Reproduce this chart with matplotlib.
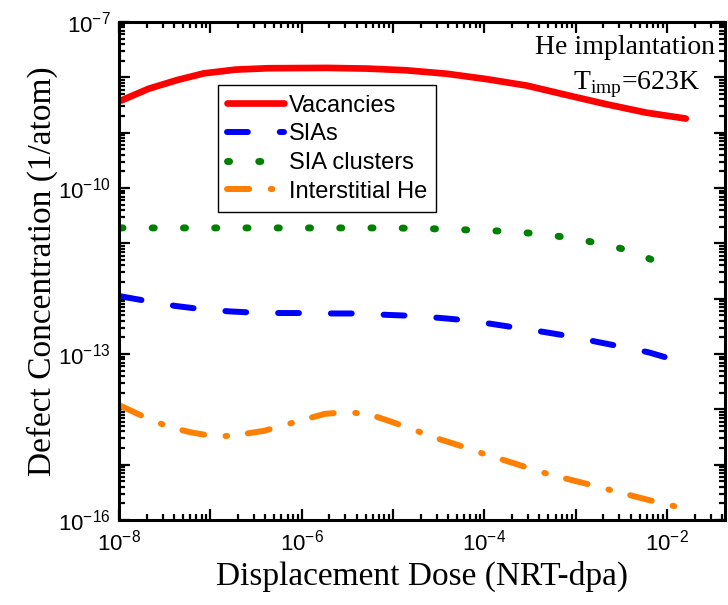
import matplotlib
matplotlib.use('Agg')
import matplotlib.pyplot as plt
from matplotlib.ticker import LogLocator, FuncFormatter, NullFormatter
import numpy as np

# values (dose in NRT-dpa, concentration in 1/atom)
vac_dose = [1.05e-8, 2.1e-8, 4.3e-8, 8.5e-8, 1.9e-7, 4.3e-7, 1.9e-6, 5.2e-6,
            1.4e-5, 3.9e-5, 1.05e-4, 2.9e-4, 7.9e-4, 2.1e-3, 5.9e-3, 1.6e-2]
vac_conc = [3.8e-9, 6.2e-9, 8.9e-9, 1.18e-8, 1.38e-8, 1.46e-8, 1.48e-8, 1.44e-8,
            1.34e-8, 1.16e-8, 9.3e-9, 7.1e-9, 4.8e-9, 3.3e-9, 2.3e-9, 1.8e-9]

sia_dose = [1.05e-8, 2.0e-8, 4.1e-8, 7.8e-8, 1.6e-7, 2.9e-7, 5.8e-7, 1.2e-6,
            2.1e-6, 4.3e-6, 8.5e-6, 1.6e-5, 3.2e-5, 6.0e-5, 1.2e-4, 2.2e-4,
            4.5e-4, 8.5e-4, 1.7e-3, 3.2e-3, 6.3e-3, 1.12e-2]
sia_conc = [1.1e-12, 9.1e-13, 7.4e-13, 6.5e-13, 5.9e-13, 5.6e-13, 5.5e-13, 5.5e-13,
            5.4e-13, 5.4e-13, 5.1e-13, 4.9e-13, 4.5e-13, 4.1e-13, 3.5e-13, 3.0e-13,
            2.5e-13, 2.1e-13, 1.66e-13, 1.35e-13, 1.07e-13, 8.1e-14]

cl_dose = [1.05e-8, 1e-7, 1e-6, 1e-5, 3.2e-5, 7.1e-5, 1.6e-4, 3.5e-4,
           7.8e-4, 1.7e-3, 3.9e-3, 7.8e-3]
cl_conc = [1.9e-11, 1.9e-11, 1.9e-11, 1.9e-11, 1.82e-11, 1.74e-11, 1.66e-11, 1.51e-11,
           1.29e-11, 1.02e-11, 7.4e-12, 4.6e-12]

he_dose = [1.05e-8, 2.2e-8, 3.7e-8, 6.3e-8, 1.17e-7, 1.9e-7, 3.9e-7, 1.05e-6,
           1.8e-6, 3.2e-6, 5.5e-6, 9.5e-6, 1.8e-5, 3.0e-5, 5.0e-5, 9.5e-5,
           1.66e-4, 2.7e-4, 5.2e-4, 8.5e-4, 1.4e-3, 2.9e-3, 4.7e-3, 7.8e-3, 1.58e-2]
he_conc = [1.15e-14, 6.5e-15, 4.7e-15, 3.8e-15, 3.2e-15, 3.4e-15, 4.1e-15, 6.5e-15,
           8.3e-15, 8.9e-15, 8.1e-15, 6.0e-15, 4.1e-15, 3.0e-15, 2.3e-15, 1.6e-15,
           1.2e-15, 9.3e-16, 6.6e-16, 5.4e-16, 4.4e-16, 3.2e-16, 2.6e-16, 2.1e-16, 1.6e-16]

x_labels = [-8, -6, -4, -2]
y_labels = [-7, -10, -13, -16]

plt.rcParams['font.family'] = 'Liberation Sans'
plt.rcParams['lines.scale_dashes'] = False

fig = plt.figure(figsize=(7.28, 6.05), dpi=100)
ax = fig.add_axes([119 / 728, 1 - 520 / 605, 606 / 728, 498 / 605])

ax.plot(vac_dose, vac_conc, color='#ff0000', lw=4.8, solid_capstyle='round',
        solid_joinstyle='round', label='Vacancies')
ax.plot(sia_dose, sia_conc, color='#0000ff', lw=4.3, dash_capstyle='round',
        dashes=(15, 23), label='SIAs')
ax.plot(cl_dose, cl_conc, color='#008000', lw=5, dash_capstyle='round',
        dashes=(1.5, 21), label='SIA clusters')
ax.plot(he_dose, he_conc, color='#ff8000', lw=4.3, dash_capstyle='round',
        dashes=(16, 15.5, 1.2, 15), label='Interstitial He')

ax.set_xscale('log')
ax.set_yscale('log')
ax.set_xlim(1e-8, 4.3e-2)
ax.set_ylim(1e-16, 1e-7)

ax.xaxis.set_major_locator(LogLocator(base=10, numticks=20))
ax.xaxis.set_minor_locator(LogLocator(base=10, subs=np.arange(2, 10), numticks=20))
ax.yaxis.set_major_locator(LogLocator(base=10, numticks=20))
ax.yaxis.set_minor_locator(LogLocator(base=10, subs=np.arange(2, 10), numticks=20))


def fmt(keep):
    def f(v, pos):
        e = int(round(np.log10(v)))
        if e in keep:
            return r'$\mathregular{10^{-%d}}$' % (-e)
        return ''
    return f


ax.xaxis.set_major_formatter(FuncFormatter(fmt(x_labels)))
ax.yaxis.set_major_formatter(FuncFormatter(fmt(y_labels)))
ax.xaxis.set_minor_formatter(NullFormatter())
ax.yaxis.set_minor_formatter(NullFormatter())

ax.tick_params(which='both', direction='in', top=True, right=True, width=1.6, labelsize=16)
ax.tick_params(which='major', length=8)
ax.tick_params(which='minor', length=4.5)
ax.tick_params(axis='x', pad=7)
ax.tick_params(axis='y', pad=6)
for s in ax.spines.values():
    s.set_linewidth(2.2)

ax.set_xlabel('Displacement Dose (NRT-dpa)', family='Liberation Serif', fontsize=24, labelpad=4)
ax.set_ylabel('Defect Concentration (1/atom)', family='Liberation Serif', fontsize=24, labelpad=0)

ax.text(0.983, 0.935, 'He implantation', transform=ax.transAxes, ha='right', va='baseline',
        family='Liberation Serif', fontsize=20)
ax.text(0.96, 0.865, r'T$_{\mathregular{imp}}$=623K', transform=ax.transAxes, ha='right', va='baseline',
        family='Liberation Serif', fontsize=20)

leg = ax.legend(loc='upper left', bbox_to_anchor=(0.163, 0.873), borderaxespad=0,
                fontsize=17, fancybox=False, framealpha=1, edgecolor='black',
                handlelength=2.4, labelspacing=0.28, handletextpad=0.2, borderpad=0.4)
leg.get_frame().set_linewidth(1)

fig.savefig('out.png', dpi=100)
